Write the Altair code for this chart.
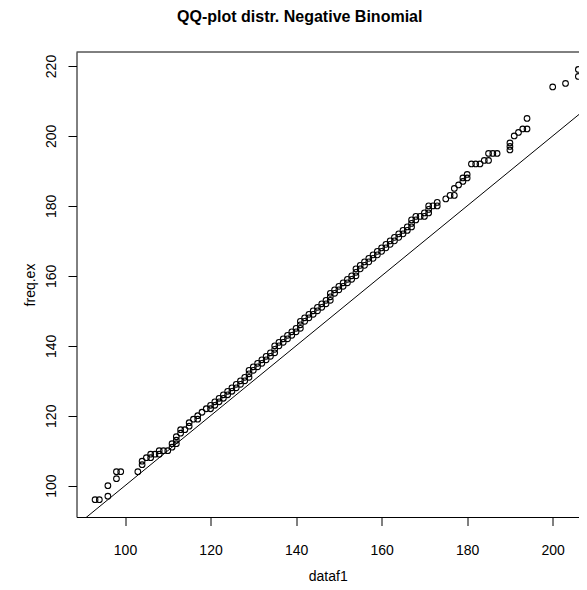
import altair as alt
import pandas as pd

# Sorted sample quantiles (x) and expected Negative Binomial quantiles (y)
dataf1 = [93, 94, 96, 96, 98, 98, 99, 103, 104, 104, 105, 106, 106, 107, 108, 108,
          109, 110, 111, 111, 112, 112, 112, 113, 113, 114, 115, 115, 116, 117, 117,
          118, 119,
          120, 120, 121, 121, 122, 122, 123, 123, 124, 124, 125, 125, 126, 126,
          127, 127, 128, 128, 129, 129, 129, 130, 130, 131, 131, 132, 132, 133, 133,
          134, 134, 135, 135, 135, 136, 136, 137, 137, 138, 138, 139, 139, 140, 140,
          141, 141, 141, 142, 142, 143, 143, 144, 144, 145, 145, 146, 146, 147, 147,
          148, 148, 148, 149, 149, 150, 150, 151, 151, 152, 152, 153, 153,
          154, 154, 154, 155, 155, 156, 156, 157, 157, 158, 158, 159, 159, 160, 160,
          161, 161, 162, 162, 163, 163, 164, 164, 165, 165, 166, 166,
          167, 167, 167, 168, 168, 169, 170, 170, 171, 171, 171, 172, 173, 173,
          175, 176, 177, 177, 178, 179, 179, 180, 180, 181, 182, 183, 184, 185, 185,
          186, 187, 190, 190, 190, 191, 192, 193, 194, 194, 200, 203, 206, 206]
freq_ex = [96, 96, 97, 100, 102, 104, 104, 104, 106, 107, 108, 108, 109, 109, 109, 110,
           110, 110, 111, 112, 112, 113, 114, 115, 116, 116, 117, 118, 119, 119, 120,
           121, 122,
           122, 123, 123, 124, 124, 125, 125, 126, 126, 127, 127, 128, 128, 129,
           129, 130, 130, 131, 131, 132, 133, 133, 134, 134, 135, 135, 136, 136, 137,
           137, 138, 138, 139, 140, 140, 141, 141, 142, 142, 143, 143, 144, 144, 145,
           145, 146, 147, 147, 148, 148, 149, 149, 150, 150, 151, 151, 152, 152, 153,
           153, 154, 155, 155, 156, 156, 157, 157, 158, 158, 159, 159, 160,
           160, 161, 162, 162, 163, 163, 164, 164, 165, 165, 166, 166, 167, 167, 168,
           168, 169, 169, 170, 170, 171, 171, 172, 172, 173, 173, 174,
           174, 175, 176, 176, 177, 177, 177, 178, 178, 179, 180, 180, 180, 181,
           182, 183, 183, 185, 186, 187, 188, 188, 189, 192, 192, 192, 193, 193, 195,
           195, 195, 196, 197, 198, 200, 201, 202, 202, 205, 214, 215, 217, 219]
assert len(dataf1) == len(freq_ex)

# reference line y = intercept + slope * x
abline_intercept = 0
abline_slope = 1
abline_x = [85, 212]

x_ticks = [100, 120, 140, 160, 180, 200]
y_ticks = [100, 120, 140, 160, 180, 200, 220]

FONT = "Liberation Sans"

pts = pd.DataFrame({"dataf1": dataf1, "freq_ex": freq_ex})
line_df = pd.DataFrame({"dataf1": abline_x})
frame_df = pd.DataFrame({"k": [0]})

W = 502.5
H = 465

xscale = alt.Scale(domain=[88.66, 206.15], nice=False, zero=False)
yscale = alt.Scale(domain=[91.05, 224.0], nice=False, zero=False)

x_axis = alt.Axis(values=x_ticks, title="dataf1", grid=False, format="d",
                  domainColor="black", domainWidth=1, tickColor="black", tickWidth=1,
                  tickSize=8.5, labelFont=FONT, labelFontSize=14, labelColor="black",
                  labelPadding=28.5, labelBaseline="alphabetic", labelFlush=False,
                  titleFont=FONT, titleFontSize=14, titleFontWeight="normal",
                  titleColor="black", titleY=63, titleBaseline="alphabetic")
y_axis = alt.Axis(values=y_ticks, title="freq.ex", grid=False, format="d",
                  domainColor="black", domainWidth=1, tickColor="black", tickWidth=1,
                  tickSize=8.5, labelFont=FONT, labelFontSize=14, labelColor="black",
                  labelAngle=270, labelAlign="center", labelBaseline="alphabetic",
                  labelPadding=13, labelFlush=False,
                  titleFont=FONT, titleFontSize=14, titleFontWeight="normal",
                  titleColor="black", titleAngle=270, titleAlign="center",
                  titleBaseline="alphabetic", titleX=-42.5)

points = alt.Chart(pts).mark_point(
    shape="circle", filled=False, color="black", size=32, strokeWidth=1.1, opacity=1
).encode(
    x=alt.X("dataf1:Q", scale=xscale, axis=x_axis),
    y=alt.Y("freq_ex:Q", scale=yscale, axis=y_axis),
)

abline = alt.Chart(line_df).transform_calculate(
    freq_ex=f"{abline_intercept} + {abline_slope} * datum.dataf1"
).mark_line(color="black", strokeWidth=1, clip=True).encode(
    x=alt.X("dataf1:Q", scale=xscale),
    y=alt.Y("freq_ex:Q", scale=yscale),
)

top_border = alt.Chart(frame_df).mark_rule(color="black", strokeWidth=1).encode(
    x=alt.value(0), x2=alt.value(W), y=alt.value(0)
)

chart = alt.layer(points, abline, top_border).properties(
    width=W,
    height=H,
    title=alt.Title("QQ-plot distr. Negative Binomial", fontSize=16, fontWeight="bold",
                    font=FONT, color="black", anchor="middle", frame="group",
                    dx=-28, offset=14, baseline="alphabetic"),
    autosize=alt.AutoSizeParams(type="none"),
    padding={"left": 68.5, "top": 44, "right": 0, "bottom": 65},
    background="white",
).configure_view(stroke=None)

chart.save("out.html", embed_options={"renderer": "svg", "actions": False})
